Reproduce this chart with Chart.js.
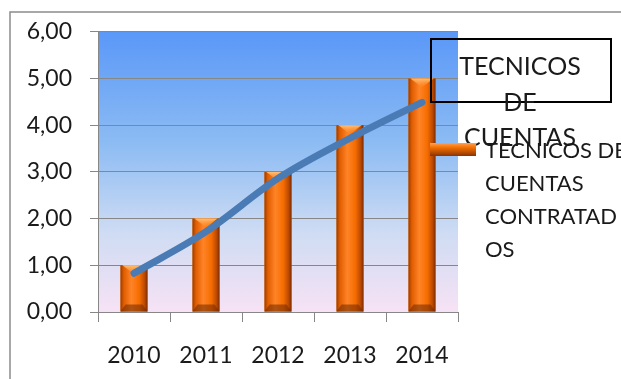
<!DOCTYPE html>
<html>
<head>
<meta charset="utf-8">
<script src="https://cdn.jsdelivr.net/npm/chart.js@4.4.1/dist/chart.umd.min.js"></script>
<style>
  html, body { margin: 0; padding: 0; background: #fff; }
  #wrap { width: 621px; height: 379px; }
</style>
</head>
<body>
<div id="wrap"><canvas id="chart" width="621" height="379"></canvas></div>
<script>
// Técnicos de cuentas contratados por año, con línea de tendencia
const years = ['2010', '2011', '2012', '2013', '2014'];
const contratados = [1, 2, 3, 4, 5];
const tendencia = [0.83, 1.72, 2.86, 3.72, 4.49];
const yTickLabels = ['0,00', '1,00', '2,00', '3,00', '4,00', '5,00', '6,00'];
const titleLines = ['TECNICOS', 'DE', 'CUENTAS'];
const legendLines = ['TECNICOS DE', 'CUENTAS', 'CONTRATAD', 'OS'];

const FONT = 'Lato, "DejaVu Sans", sans-serif';
const TEXT = '#1a1a1a';
const GRID = '#878787';

const frame = {
  id: 'frame',
  beforeDraw(chart) {
    const { ctx, chartArea: a } = chart;
    ctx.save();
    const g = ctx.createLinearGradient(0, a.top, 0, a.bottom);
    g.addColorStop(0, '#5a98f8');
    g.addColorStop(0.4, '#8dbcf3');
    g.addColorStop(0.72, '#cfdcf3');
    g.addColorStop(1, '#f7e2f5');
    ctx.fillStyle = g;
    ctx.fillRect(a.left, a.top, a.right - a.left, a.bottom - a.top);
    // outer border of the chart object
    ctx.strokeStyle = '#8c8c8c';
    ctx.lineWidth = 1.5;
    ctx.beginPath();
    ctx.moveTo(10, 379);
    ctx.lineTo(10, 12);
    ctx.lineTo(621, 12);
    ctx.stroke();
    ctx.restore();
  },
  // repaint each bar with a shaded, bevelled look
  afterDatasetDraw(chart, args) {
    if (args.meta.type !== 'bar') return;
    const ctx = chart.ctx;
    ctx.save();
    args.meta.data.forEach(el => {
      const { x, y, base, width } = el.getProps(['x', 'y', 'base', 'width'], true);
      const l = x - width / 2, r = x + width / 2;
      const g = ctx.createLinearGradient(l, 0, r, 0);
      g.addColorStop(0, '#9a3c00');
      g.addColorStop(0.12, '#e05c00');
      g.addColorStop(0.4, '#ff8426');
      g.addColorStop(0.7, '#f56c00');
      g.addColorStop(0.9, '#b84800');
      g.addColorStop(1, '#7a2c00');
      ctx.fillStyle = g;
      ctx.fillRect(l, y, width, base - y);
      // top bevel
      const tg = ctx.createLinearGradient(0, y, 0, y + 9);
      tg.addColorStop(0, '#ffc27a');
      tg.addColorStop(1, 'rgba(255,140,40,0.2)');
      ctx.fillStyle = tg;
      ctx.beginPath();
      ctx.moveTo(l + 2, y);
      ctx.lineTo(r - 2, y);
      ctx.lineTo(x, y + 9);
      ctx.closePath();
      ctx.fill();
      // bottom bevel
      ctx.fillStyle = 'rgba(110,40,0,0.55)';
      ctx.beginPath();
      ctx.moveTo(l, base);
      ctx.lineTo(r, base);
      ctx.lineTo(r - 5, base - 7);
      ctx.lineTo(l + 5, base - 7);
      ctx.closePath();
      ctx.fill();
    });
    ctx.restore();
  },
  afterDraw(chart) {
    const ctx = chart.ctx;
    ctx.save();
    // title box
    ctx.strokeStyle = '#000';
    ctx.lineWidth = 2;
    ctx.strokeRect(431, 39, 180, 63);
    ctx.fillStyle = TEXT;
    ctx.textBaseline = 'middle';
    ctx.textAlign = 'center';
    ctx.font = '25px ' + FONT;
    titleLines.forEach((t, i) => ctx.fillText(t, 520, 67 + i * 35.5));
    // legend marker
    const mg = ctx.createLinearGradient(0, 143, 0, 156);
    mg.addColorStop(0, '#ffa055');
    mg.addColorStop(0.35, '#f57000');
    mg.addColorStop(1, '#8a3400');
    ctx.fillStyle = mg;
    ctx.fillRect(430, 143, 46, 13);
    ctx.fillStyle = TEXT;
    ctx.textAlign = 'left';
    ctx.font = '22px ' + FONT;
    legendLines.forEach((t, i) => ctx.fillText(t, 485, 151 + i * 33));
    ctx.restore();
  }
};

new Chart(document.getElementById('chart'), {
  data: {
    labels: years,
    datasets: [
      {
        type: 'line',
        label: 'Tendencia',
        data: tendencia,
        borderColor: '#4a7bb5',
        borderWidth: 7,
        borderCapStyle: 'round',
        pointRadius: 0,
        cubicInterpolationMode: 'monotone',
        order: 0
      },
      {
        type: 'bar',
        label: 'TECNICOS DE CUENTAS CONTRATADOS',
        data: contratados,
        backgroundColor: '#f07000',
        borderWidth: 0,
        categoryPercentage: 1,
        barPercentage: 0.375,
        order: 1
      }
    ]
  },
  options: {
    responsive: false,
    animation: false,
    layout: { padding: { top: 31, right: 163, bottom: 0, left: 0 } },
    plugins: {
      legend: { display: false },
      title: { display: false },
      tooltip: { enabled: false }
    },
    scales: {
      x: {
        grid: { drawOnChartArea: false, color: GRID, tickLength: 10 },
        border: { color: GRID },
        ticks: { color: TEXT, font: { family: FONT, size: 23 }, padding: 20, maxRotation: 0 },
        afterFit: s => { s.height = 67; }
      },
      y: {
        min: 0,
        max: 6,
        grid: { color: GRID, tickLength: 8 },
        border: { color: GRID },
        ticks: {
          stepSize: 1,
          color: TEXT,
          font: { family: FONT, size: 23 },
          padding: 18,
          callback: (v, i) => yTickLabels[i]
        },
        afterFit: s => { s.width = 98; }
      }
    }
  },
  plugins: [frame]
});
</script>
</body>
</html>
